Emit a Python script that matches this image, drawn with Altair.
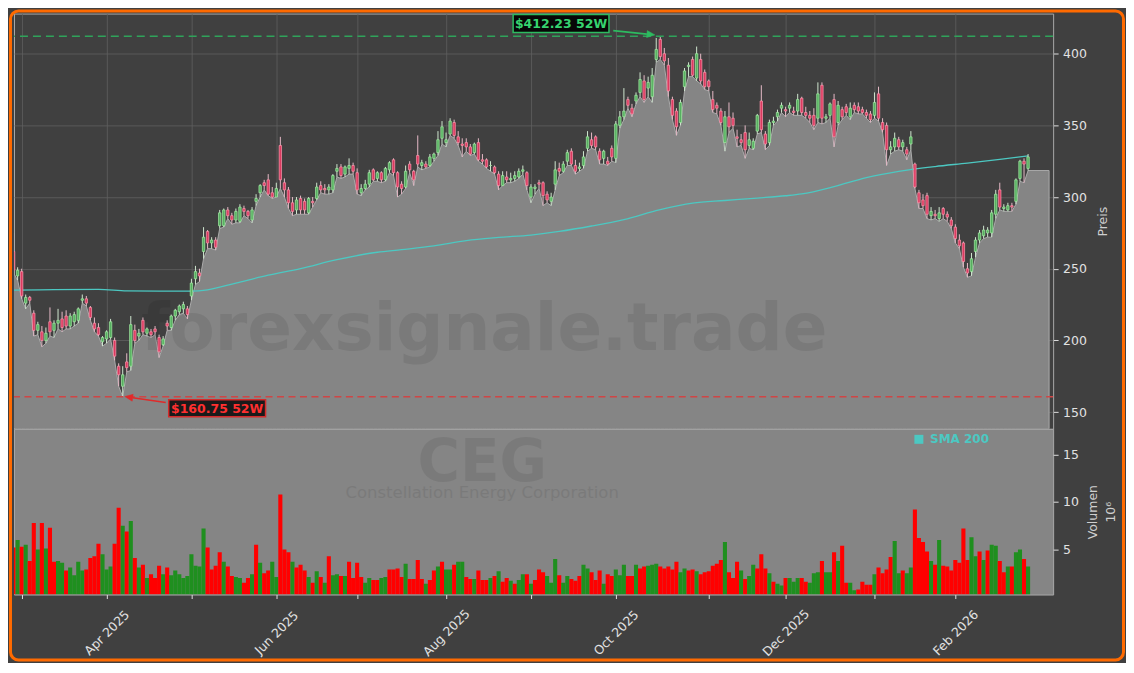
import altair as alt
import pandas as pd

# ---------------- data (trading-day index 0 = 27 Feb 2025) ----------------
opens = [
    262, 245, 248, 226, 230, 219, 207, 206, 200, 213,
    207, 212, 215, 217, 210, 213, 214, 228, 229, 223,
    212, 209, 199, 201, 202, 200, 182, 168, 185, 182,
    207, 203, 214, 205, 206, 208, 202, 197, 212, 209,
    217, 220, 222, 222, 231, 243, 247, 262, 276, 268,
    270, 280, 280, 291, 287, 284, 283, 292, 290, 284,
    297, 303, 310, 312, 303, 300, 336, 310, 305, 296,
    291, 299, 297, 289, 297, 299, 308, 306, 305, 305,
    318, 321, 316, 320, 322, 317, 303, 306, 309, 319,
    313, 317, 312, 319, 326, 317, 309, 307, 323, 318,
    329, 322, 323, 322, 327, 331, 341, 338, 344, 352,
    342, 337, 338, 335, 331, 338, 326, 326, 322, 321,
    316, 308, 314, 312, 313, 314, 318, 317, 300, 306,
    310, 310, 302, 297, 309, 320, 318, 325, 332, 322,
    320, 322, 334, 340, 342, 332, 327, 325, 334, 327,
    350, 356, 368, 362, 367, 373, 381, 376, 370, 396,
    410, 400, 392, 368, 360, 352, 377, 391, 396, 383,
    396, 387, 381, 368, 364, 360, 338, 356, 355, 342,
    340, 345, 336, 334, 346, 367, 344, 338, 352, 356,
    362, 361, 362, 360, 360, 369, 359, 357, 357, 355,
    378, 355, 357, 368, 352, 361, 363, 356, 364, 363,
    361, 359, 358, 357, 372, 352, 350, 333, 335, 340,
    335, 333, 337, 323, 303, 298, 301, 287, 288, 285,
    292, 288, 284, 279, 270, 268, 250, 248, 262, 270,
    273, 275, 275, 288, 305, 292, 291, 294, 297, 313,
    325, 320,
]
highs = [
    275, 251, 250, 232, 231, 221, 213, 210, 209, 223,
    214, 222, 220, 221, 219, 220, 223, 232, 231, 224,
    216, 212, 203, 207, 215, 202, 184, 182, 191, 217,
    211, 208, 216, 209, 208, 210, 204, 203, 214, 218,
    222, 225, 227, 224, 243, 252, 250, 279, 277, 272,
    272, 291, 292, 293, 289, 292, 295, 294, 291, 293,
    302, 309, 312, 316, 307, 310, 342, 313, 307, 300,
    300, 301, 299, 300, 300, 310, 311, 309, 309, 316,
    323, 323, 322, 327, 324, 320, 309, 312, 319, 320,
    318, 318, 321, 325, 327, 318, 311, 322, 325, 319,
    343, 326, 325, 330, 331, 346, 353, 345, 355, 354,
    346, 341, 341, 337, 338, 341, 330, 327, 325, 322,
    318, 318, 318, 317, 318, 320, 322, 318, 309, 309,
    312, 311, 304, 303, 325, 324, 325, 333, 334, 326,
    324, 332, 346, 345, 343, 334, 333, 328, 336, 353,
    360, 376, 370, 365, 373, 387, 385, 384, 390, 411,
    412.23, 404, 397, 370, 362, 368, 390, 394, 398, 405,
    400, 389, 382, 374, 366, 362, 360, 366, 359, 347,
    344, 350, 345, 341, 358, 378, 346, 354, 356, 361,
    366, 363, 366, 363, 372, 370, 363, 360, 362, 380,
    380, 358, 366, 372, 367, 363, 365, 366, 366, 366,
    363, 361, 360, 373, 377, 355, 352, 339, 345, 342,
    340, 335, 346, 324, 305, 302, 303, 293, 291, 293,
    293, 290, 286, 281, 274, 269, 254, 261, 272, 277,
    280, 279, 291, 305, 310, 295, 296, 296, 313, 326,
    327, 330,
]
lows = [
    247, 242, 229, 222, 226, 203, 204, 195.5, 198, 203,
    202, 208, 206, 208, 208, 210, 212, 226, 224, 214,
    206, 203, 196, 198, 201, 186, 168, 160.75, 178, 179,
    198, 200, 204, 203, 202, 204, 188, 196, 207, 207,
    214, 218, 219, 215, 228, 239, 241, 257, 264, 264,
    263, 278, 279, 285, 281, 282, 282, 287, 285, 282,
    294, 300, 305, 301, 299, 300, 306, 300, 292, 287,
    288, 288, 288, 288, 293, 298, 303, 302, 302, 303,
    314, 313, 314, 316, 316, 302, 301, 305, 307, 311,
    311, 310, 311, 317, 315, 300, 302, 306, 317, 308,
    321, 319, 320, 321, 325, 329, 337, 335, 343, 341,
    336, 328, 332, 329, 330, 325, 323, 320, 318, 316,
    305, 308, 310, 310, 311, 313, 316, 305, 296, 302,
    306, 294, 296, 294, 305, 315, 317, 322, 322, 316,
    318, 320, 332, 334, 333, 323, 323, 322, 325, 324,
    348, 354, 362, 356, 365, 370, 366, 370, 366, 394,
    396, 392, 370, 354, 343, 350, 374, 384, 384, 381,
    379, 375, 374, 359, 358, 350, 332, 345, 348, 335,
    336, 327, 334, 333, 344, 345, 333, 336, 350, 353,
    359, 356, 359, 357, 357, 357, 355, 352, 347, 352,
    351, 352, 355, 335, 350, 354, 357, 354, 359, 358,
    358, 355, 352, 355, 353, 345, 322, 330, 332, 333,
    332, 326, 333, 306, 292, 292, 285, 284, 285, 283,
    285, 283, 278, 268, 264, 251, 244, 245, 258, 268,
    271, 272, 272, 285, 291, 290, 290, 290, 295, 311,
    310, 318.5,
]
closes = [
    249, 249, 231, 230, 228, 207, 211, 200, 205, 206,
    212, 214, 209, 210, 217, 218, 222, 229, 226, 216,
    208, 204, 202, 206, 213, 189, 176, 176, 181, 211,
    200, 205, 206, 208, 204, 206, 192, 201, 210, 217,
    221, 224, 225, 218, 240, 248, 245, 272, 268, 270,
    265, 289, 291, 287, 284, 290, 293, 290, 287, 291,
    299, 308, 308, 302, 300, 306, 312, 305, 296, 290,
    298, 291, 291, 299, 296, 307, 305, 305, 307, 315,
    320, 315, 321, 322, 318, 305, 306, 309, 317, 312,
    317, 312, 320, 324, 317, 307, 306, 318, 319, 312,
    323, 324, 321, 328, 330, 340, 349, 340, 353, 343,
    338, 336, 335, 330, 337, 326, 325, 321, 322, 317,
    308, 315, 312, 313, 315, 318, 319, 308, 307, 307,
    309, 301, 298, 300, 319, 318, 323, 331, 323, 318,
    321, 328, 342, 336, 335, 326, 332, 323, 328, 351,
    356, 360, 364, 358, 371, 382, 368, 380, 385, 403,
    398, 395, 374, 357, 349, 366, 388, 392, 385, 400,
    381, 377, 377, 361, 362, 352, 356, 349, 350, 341,
    338, 333, 340, 339, 357, 347, 337, 352, 353, 359,
    364, 360, 364, 359, 368, 359, 357, 355, 350, 372,
    355, 356, 365, 342, 364, 356, 359, 362, 361, 360,
    359, 357, 354, 366, 355, 347, 333, 335, 341, 335,
    338, 330, 342, 307, 296, 294, 288, 290, 287, 289,
    288, 286, 280, 271, 266, 255, 247, 257, 270, 275,
    277, 277, 289, 302, 293, 293, 294, 293, 312, 325,
    323, 328,
]
volumes = [  # millions
    5.2, 6.0, 5.3, 5.5, 3.8, 7.8, 5.0, 7.8, 5.1, 7.3,
    3.7, 3.8, 3.6, 2.8, 3.1, 2.3, 3.7, 2.8, 2.9, 4.1,
    4.3, 5.6, 4.5, 2.9, 3.2, 5.6, 9.4, 7.5, 6.9, 8.0,
    4.1, 3.1, 3.4, 2.0, 2.4, 2.0, 3.3, 2.4, 3.1, 2.3,
    2.8, 2.4, 2.0, 2.2, 4.5, 3.3, 3.2, 7.2, 5.2, 2.9,
    3.3, 4.7, 3.7, 3.2, 2.2, 2.1, 2.0, 1.5, 2.0, 2.4,
    5.5, 3.6, 2.5, 2.8, 3.7, 2.1, 10.8, 5.0, 4.7, 3.7,
    3.1, 3.4, 2.8, 2.1, 1.5, 2.7, 2.1, 1.5, 4.3, 2.3,
    2.4, 2.2, 2.2, 3.7, 2.0, 3.6, 2.1, 1.5, 2.0, 1.8,
    1.8, 2.0, 2.1, 2.9, 2.9, 3.0, 2.1, 3.5, 1.9, 1.9,
    3.9, 1.9, 1.4, 1.8, 2.8, 3.2, 3.7, 2.9, 2.9, 3.4,
    3.7, 3.7, 2.1, 1.9, 1.9, 2.8, 1.8, 1.8, 2.0, 2.2,
    2.7, 1.6, 2.0, 1.7, 1.4, 1.8, 2.4, 2.4, 1.4, 1.8,
    2.9, 2.6, 2.2, 1.5, 4.0, 2.3, 1.5, 2.2, 1.9, 1.7,
    2.2, 3.4, 3.0, 2.6, 1.8, 2.8, 1.4, 2.4, 2.2, 2.9,
    2.3, 3.4, 2.2, 2.2, 3.4, 3.0, 3.2, 3.3, 3.4, 3.5,
    3.2, 3.0, 3.2, 2.9, 3.7, 2.6, 3.0, 2.8, 2.9, 2.7,
    2.4, 2.6, 2.7, 3.3, 3.5, 3.9, 5.8, 2.6, 2.0, 3.7,
    2.8, 1.9, 2.2, 3.4, 3.0, 4.5, 3.0, 2.5, 1.6, 1.4,
    1.2, 2.0, 2.0, 1.6, 2.0, 2.0, 1.6, 1.5, 2.5, 2.6,
    3.8, 2.6, 2.6, 4.7, 3.8, 5.4, 1.5, 1.5, 0.7, 0.8,
    1.6, 1.3, 1.3, 2.4, 3.1, 2.5, 2.9, 4.2, 5.9, 2.5,
    2.8, 2.5, 3.1, 9.2, 6.2, 5.8, 4.8, 3.8, 3.4, 6.0,
    3.3, 3.2, 2.8, 3.9, 3.6, 7.2, 3.9, 6.3, 4.3, 4.8,
    3.9, 4.9, 5.5, 5.4, 3.8, 2.6, 3.2, 3.2, 4.7, 5.0,
    4.0, 3.2,
]
vol_dir = list(
    "rgrgrrgrgr" "rggrggggrr" "rrgggrrgrg" "rgrgrrrgrg" "ggggggggrr"
    "rrgrrggrrg" "rgrrggrrrg" "rrrgrgrgrg" "grgrrrrggr" "rggrrrrgrr"
    "rrgrrgrggr" "ggrrgrrrgr" "grrgrggrgr" "rrgggrggrr" "rggrrrgrrg"
    "ggrrgrrggg" "rrrrrggrrg" "rrrrrrgrrr" "grggrrrgrg" "grgggrrggg"
    "rggrgrrggr" "rrrgrrrrgg" "rggrrrrgrg" "rrrrrrrggr" "grggrrgrgg"
    "rg"
)
sma_idx = [0, 10, 21, 28, 36, 44, 48, 55, 63, 71, 80, 90, 96, 104, 112, 120,
           128, 135, 143, 151, 160, 168, 176, 184, 191, 195, 203, 211, 219,
           228, 236, 244, 251]
sma_val = [235.1, 235.4, 235.6, 234.6, 234.4, 234.4, 235.3, 240.0, 245.5,
           250.1, 256.3, 261.5, 263.3, 265.9, 269.6, 271.8, 273.5, 276.0,
           279.8, 284.3, 291.3, 295.8, 297.6, 299.3, 300.9, 302.2, 307.3,
           313.6, 317.9, 321.3, 323.7, 326.3, 328.8]
tick_idx = [2, 23, 44, 65, 85, 107, 128, 149, 172, 191, 213, 233]
tick_labels = ["", "Apr 2025", "", "Jun 2025", "", "Aug 2025", "",
               "Oct 2025", "", "Dec 2025", "", "Feb 2026"]
price_ticks = [150, 200, 250, 300, 350, 400]
vol_ticks = [5, 10, 15]
area_end_idx = 256.2
high52, high52_idx = 412.23, 160
low52, low52_idx = 160.75, 27

n = len(closes)
assert len(opens) == n and len(highs) == n and len(lows) == n
assert len(volumes) == n and len(vol_dir) == n

df = pd.DataFrame({"i": range(n), "o": opens, "h": highs, "l": lows,
                   "c": closes, "v": volumes, "vd": vol_dir})
df["bt"] = df[["o", "c"]].max(axis=1)
df["bb"] = df[["o", "c"]].min(axis=1)
area_df = pd.DataFrame({"i": list(range(n)) + [area_end_idx],
                        "l": lows + [lows[-1]]})
sma_df = pd.DataFrame({"i": sma_idx, "s": sma_val})
hi_df = pd.DataFrame({"i": [high52_idx], "y": [high52], "t": [f"${high52:.2f} 52W"]})
lo_df = pd.DataFrame({"i": [low52_idx], "y": [low52], "t": [f"${low52:.2f} 52W"]})
one = pd.DataFrame({"k": [0]})

# ---------------- styling ----------------
FONT = "DejaVu Sans"
W, H1, H2 = 1041, 416, 166
BG = "#404040"
PANEL = "#858585"
UP_FILL, UP_EDGE, UP_WICK = "#56b060", "#a6eea6", "#cfe6cf"
DN_FILL, DN_EDGE, DN_WICK = "#dc3a60", "#ff98ae", "#e6bac7"
SMA_C = "#4cc8c2"

xscale = alt.Scale(domain=[0.1, 257.2], nice=False, zero=False, padding=0)
pscale = alt.Scale(domain=[138.3, 428.0], nice=False, zero=False, clamp=True)
vscale = alt.Scale(domain=[0.26, 17.7], nice=False, zero=False, clamp=True)

x_axis_p = alt.Axis(values=tick_idx, grid=True, gridColor="#5f5f5f", gridWidth=0.8,
                    labels=False, ticks=False, domain=False, title=None)
label_expr = " : ".join(f"datum.value == {t} ? '{s}'"
                        for t, s in zip(tick_idx, tick_labels) if s) + " : ''"
x_axis_v = alt.Axis(values=tick_idx, grid=False, labelExpr=label_expr,
                    labelAngle=315, labelAlign="center", labelBaseline="middle",
                    labelPadding=34, tickSize=4, tickColor="#e0e0e0",
                    labelOverlap=False, labelFlush=False, domain=False, title=None)
y_axis_p = alt.Axis(orient="right", values=price_ticks, grid=True, gridColor="#5f5f5f",
                    gridWidth=0.8, tickSize=5, tickColor="#dddddd", labelPadding=4.5,
                    domain=False, title="Preis", titleAngle=270, titleX=49,
                    titleY=H1 / 2, titleAlign="center", titleBaseline="middle")
y_axis_v = alt.Axis(orient="right", values=vol_ticks, grid=False, tickSize=5,
                    tickColor="#dddddd", labelPadding=4.5, domain=False,
                    title=["Volumen", "10⁶"], titleAngle=270, titleX=39,
                    titleY=H2 / 2, titleAlign="center", titleBaseline="middle",
                    titleLineHeight=18)

X = alt.X("i:Q", scale=xscale, axis=x_axis_p)
Xv = alt.X("i:Q", scale=xscale, axis=x_axis_v)


def Yp(field):
    return alt.Y(f"{field}:Q", scale=pscale, axis=y_axis_p)


up = "datum.c >= datum.o"

area = alt.Chart(area_df).mark_area(
    fill=PANEL, stroke="#ababab", strokeWidth=1, fillOpacity=1, clip=True
).encode(x=X, y=Yp("l"), y2=alt.datum(0))

wm = alt.Chart(pd.DataFrame({"t": ["forexsignale.trade"]})).mark_text(
    font=FONT, fontSize=66, fontWeight="bold", color="black", opacity=0.08,
    align="center", baseline="alphabetic"
).encode(text="t:N", x=alt.value(471), y=alt.value(337))

sma = alt.Chart(sma_df).mark_line(
    color=SMA_C, strokeWidth=1.3, interpolate="monotone", clip=True
).encode(x=X, y=Yp("s"))

wicks = alt.Chart(df).mark_rule(strokeWidth=1, clip=True).encode(
    x=X, y=Yp("l"), y2="h:Q",
    color=alt.condition(up, alt.value(UP_WICK), alt.value(DN_WICK)))

bodies = alt.Chart(df).mark_bar(size=2.4, strokeWidth=0.7, clip=True).encode(
    x=X, y=Yp("bb"), y2="bt:Q",
    fill=alt.condition(up, alt.value(UP_FILL), alt.value(DN_FILL)),
    stroke=alt.condition(up, alt.value(UP_EDGE), alt.value(DN_EDGE)))

hi_line = alt.Chart(hi_df).mark_rule(
    color="#2fa35a", strokeDash=[8, 5], strokeWidth=1.5
).encode(y=Yp("y"))
lo_line = alt.Chart(lo_df).mark_rule(
    color="#d04545", strokeDash=[7, 4.5], strokeWidth=1.5
).encode(y=Yp("y"))

HI_BOX = "M -147.4 -21.6 L -51.4 -21.6 L -51.4 -3.6 L -147.4 -3.6 Z"
HI_LINE = "M -47.1 -5.6 L -13.4 -2.1"
HI_HEAD = "M -5.4 -1.3 L -13.0 -5.6 L -13.7 1.4 Z"
LO_BOX = "M 46.1 3.2 L 143.1 3.2 L 143.1 20.2 L 46.1 20.2 Z"
LO_LINE = "M 43.1 5.9 L 10.0 1.1"
LO_HEAD = "M 2.1 -0.1 L 10.5 -2.4 L 9.5 4.5 Z"


def sym(d, path, fill, stroke, sw):
    return alt.Chart(d).mark_point(
        shape=path, size=4, filled=True, fill=fill, stroke=stroke,
        strokeWidth=sw, opacity=1, clip=False
    ).encode(x=X, y=Yp("y"))


hi_box = sym(hi_df, HI_BOX, "#070707", "#2dbb60", 1.5)
hi_arrow = sym(hi_df, HI_LINE, "transparent", "#2dbb60", 1.6)
hi_head = sym(hi_df, HI_HEAD, "#2dbb60", "#2dbb60", 0.5)
hi_text = alt.Chart(hi_df).mark_text(
    dx=-99.4, dy=-12.4, align="center", baseline="middle", font=FONT,
    fontSize=12.5, fontWeight="bold", color="#36d46f"
).encode(x=X, y=Yp("y"), text="t:N")

lo_box = sym(lo_df, LO_BOX, "#1a1a1a", "#d42a2a", 1.5)
lo_arrow = sym(lo_df, LO_LINE, "transparent", "#e02a2a", 1.6)
lo_head = sym(lo_df, LO_HEAD, "#e02a2a", "#e02a2a", 0.5)
lo_text = alt.Chart(lo_df).mark_text(
    dx=94.6, dy=11.9, align="center", baseline="middle", font=FONT,
    fontSize=12.5, fontWeight="bold", color="#ff3030"
).encode(x=X, y=Yp("y"), text="t:N")

border = alt.Chart(one).mark_rect(
    fill="transparent", stroke="#ff6a00", strokeWidth=3, cornerRadius=8, clip=False
).encode(x=alt.value(-3.5), x2=alt.value(1111.5), y=alt.value(-2.5), y2=alt.value(647.5))

price = alt.layer(
    area, wm, sma, wicks, bodies, hi_line, lo_line,
    hi_arrow, hi_head, hi_box, hi_text, lo_arrow, lo_head, lo_box, lo_text, border
).properties(width=W, height=H1,
             view=alt.ViewBackground(stroke="#a8a8a8", strokeWidth=1))

# ---------------- volume panel ----------------
vbars = alt.Chart(df).mark_bar(size=4.1, clip=True).encode(
    x=Xv, y=alt.Y("v:Q", scale=vscale, axis=y_axis_v), y2=alt.datum(0),
    color=alt.condition("datum.vd == 'g'", alt.value("#1f8f1f"), alt.value("#ff0000")))

ceg = alt.Chart(pd.DataFrame({"t": ["CEG"]})).mark_text(
    font=FONT, fontSize=58, fontWeight="bold", color="black", opacity=0.08,
    align="center", baseline="alphabetic"
).encode(text="t:N", x=alt.value(469), y=alt.value(52.5))
corp = alt.Chart(pd.DataFrame({"t": ["Constellation Energy Corporation"]})).mark_text(
    font=FONT, fontSize=16.5, color="black", opacity=0.08,
    align="center", baseline="alphabetic"
).encode(text="t:N", x=alt.value(469), y=alt.value(69.5))

leg_sq = alt.Chart(one).mark_point(
    shape="square", size=81, filled=True, color=SMA_C, opacity=1
).encode(x=alt.value(906.5), y=alt.value(10.5))
leg_tx = alt.Chart(pd.DataFrame({"t": ["SMA 200"]})).mark_text(
    font=FONT, fontSize=12, fontWeight="bold", color=SMA_C,
    align="left", baseline="alphabetic"
).encode(text="t:N", x=alt.value(917.7), y=alt.value(14.5))

volume = alt.layer(vbars, ceg, corp, leg_sq, leg_tx).properties(
    width=W, height=H2,
    view=alt.ViewBackground(fill=PANEL, stroke="#a8a8a8", strokeWidth=1))

chart = alt.vconcat(price, volume, spacing=0, bounds="flush").properties(
    padding=0, background=BG
).configure_axis(
    labelFont=FONT, titleFont=FONT, labelFontSize=12.5, titleFontSize=12.5,
    labelColor="#e2e2e2", titleColor="#cfcfcf", titleFontWeight="normal"
)

chart.save("out.html", embed_options={"renderer": "svg", "actions": False})
